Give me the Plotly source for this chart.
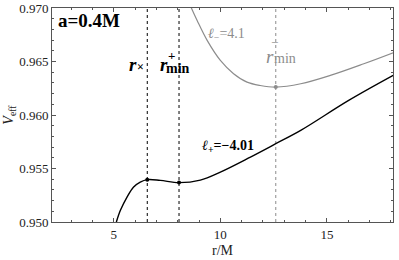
import plotly.graph_objects as go

# ---- data ----
r_plus = [5.12, 5.31, 5.62, 5.93, 6.24, 6.57, 7.18, 8.06, 9.06, 10.0, 11.41, 12.60, 13.77, 16.02, 18.11]
v_plus = [0.9500, 0.95109, 0.95233, 0.95327, 0.95373, 0.95396, 0.95389, 0.95368, 0.95392,
          0.95467, 0.95607, 0.95732, 0.95856, 0.96136, 0.96370]

r_minus = [8.55, 8.91, 9.38, 10.0, 10.62, 11.25, 11.87, 12.60, 13.77, 15.16, 16.73, 18.11]
v_minus = [0.9704, 0.96883, 0.96697, 0.96510, 0.96386, 0.96307, 0.96276, 0.96261, 0.96292,
           0.96370, 0.96479, 0.96582]

r_cross = 6.57
v_cross = 0.95396
r_min_plus = 8.06
v_min_plus = 0.95368
r_min_minus = 12.60
v_min_minus = 0.96261

x_range = [2.1, 18.1]
y_range = [0.950, 0.970]

FONT = "Liberation Serif"
GRAY = "#8c8c8c"

fig = go.Figure()

# vertical marker lines
for rv, col, dash in [(r_cross, "black", "dot"), (r_min_plus, "black", "dot"), (r_min_minus, GRAY, "dot")]:
    fig.add_trace(go.Scatter(x=[rv, rv], y=y_range, mode="lines",
                             line=dict(color=col, width=1, dash=dash),
                             showlegend=False, hoverinfo="skip"))

fig.add_trace(go.Scatter(x=r_minus, y=v_minus, mode="lines",
                         line=dict(color=GRAY, width=1.2, shape="spline", smoothing=1.0),
                         showlegend=False))
fig.add_trace(go.Scatter(x=r_plus, y=v_plus, mode="lines",
                         line=dict(color="black", width=1.4, shape="spline", smoothing=1.0),
                         showlegend=False))

fig.add_trace(go.Scatter(x=[r_cross, r_min_plus], y=[v_cross, v_min_plus], mode="markers",
                         marker=dict(color="black", size=4), showlegend=False))
fig.add_trace(go.Scatter(x=[r_min_minus], y=[v_min_minus], mode="markers",
                         marker=dict(color=GRAY, size=4), showlegend=False))

def ann(x, y, text, size, color="black"):
    fig.add_annotation(x=x, y=y, xref="x", yref="y", text=text, showarrow=False,
                       font=dict(family=FONT, size=size, color=color),
                       xanchor="center", yanchor="middle")

ann(3.83, 0.96883, "<b>a=0.4M</b>", 19)
# r_x
ann(5.92, 0.96472, "<b><i>r</i></b>", 19)
ann(6.27, 0.96450, "<b>×</b>", 12)
# r_min^+
ann(7.35, 0.96472, "<b><i>r</i></b>", 19)
ann(7.71, 0.96556, "<b>+</b>", 13)
ann(8.00, 0.96435, "<b>min</b>", 14)
# l_- label
ann(10.3, 0.96753, "<i>ℓ</i><sub>−</sub>=4.1", 14, GRAY)
# r_min^-
ann(12.33, 0.96547, "<i>r</i>", 19, GRAY)
ann(12.55, 0.96680, "−", 13, GRAY)
ann(13.02, 0.96525, "min", 14, GRAY)
# l_+ label
ann(10.35, 0.95708, "<b><i>ℓ</i><sub>+</sub>=−4.01</b>", 14)

axis_common = dict(showline=True, linecolor="#555555", linewidth=1, mirror="allticks",
                   ticks="inside", ticklen=4, tickcolor="#555555", showgrid=False,
                   zeroline=False, automargin=False,
                   tickfont=dict(family=FONT, size=13, color="#222"))

fig.update_xaxes(range=x_range, tick0=0, dtick=5, **axis_common,
                 minor=dict(ticks="inside", dtick=1, ticklen=2, tickcolor="#555555"),
                 title=dict(text="r/M", font=dict(family=FONT, size=14, color="#222"), standoff=4))
fig.update_yaxes(range=y_range, tick0=0.95, dtick=0.005, tickformat=".3f", **axis_common,
                 minor=dict(ticks="inside", dtick=0.001, ticklen=2, tickcolor="#555555"),
                 title=dict(text="<i>V</i><sub>eff</sub>", font=dict(family=FONT, size=14, color="#222"),
                            standoff=2))

fig.update_layout(width=399, height=260, margin=dict(l=52, r=6, t=8, b=38),
                  plot_bgcolor="white", paper_bgcolor="white", showlegend=False)

fig.write_html("out.html", config={"displayModeBar": False},
               post_script="document.body.style.margin='0';")
